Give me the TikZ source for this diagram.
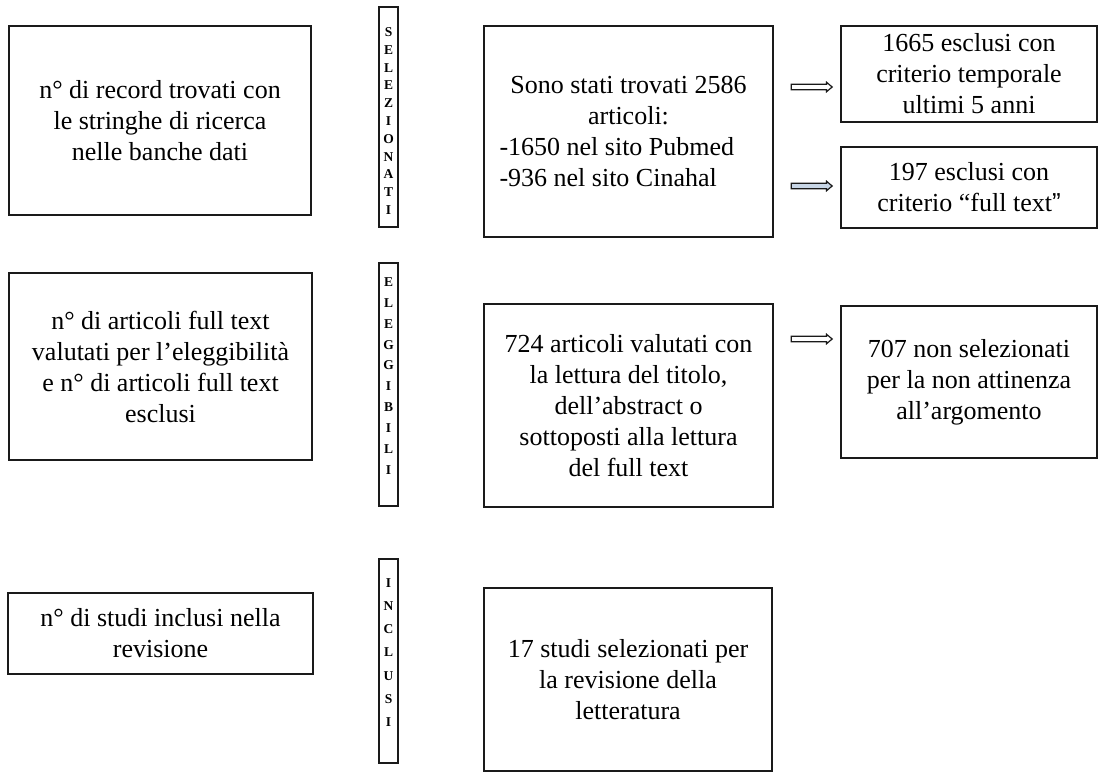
\documentclass[tikz,border=0pt]{standalone}
\usepackage{fontspec}
\setmainfont{Liberation Serif}
\newfontfamily\quotefont{Liberation Sans}
\usetikzlibrary{shapes.arrows}
\definecolor{edge}{HTML}{1A1A1A}
\definecolor{paleblue}{HTML}{C8D6E6}
\tikzset{
  box/.style={draw=edge, line width=1.4pt, align=center, inner sep=0pt,
    font=\fontsize{26}{31}\selectfont},
  bar/.style={draw=edge, line width=1.4pt, align=center, inner sep=0pt,
    minimum width=19},
  outarrow/.style={single arrow, draw=edge, line width=1.2pt, fill=white,
    minimum height=41, inner sep=2.2pt, single arrow head extend=1.9pt,
    single arrow tip angle=80}
}
\begin{document}
\begin{tikzpicture}[x=1pt,y=-1pt]
\useasboundingbox (0,0) rectangle (1099,773);
% left column
\node[box, minimum width=302, minimum height=189] (l1) at (160,120.5)
  {n° di record trovati con\\le stringhe di ricerca\\nelle banche dati};
\node[box, minimum width=303, minimum height=187] (l2) at (160.5,366.5)
  {n° di articoli full text\\valutati per l’eleggibilità\\e n° di articoli full text\\esclusi};
\node[box, minimum width=305, minimum height=81] (l3) at (160.5,633.5)
  {n° di studi inclusi nella\\revisione};
% bars
\node[bar, minimum height=220,
  font=\bfseries\fontsize{13.5}{17.8}\selectfont] (bs) at (388.5,117)
  {\rule{0pt}{17pt}S\\E\\L\\E\\Z\\I\\O\\N\\A\\T\\I};
\node[bar, minimum height=243, text depth=17pt,
  font=\bfseries\fontsize{13.5}{20.9}\selectfont] (be) at (388.5,384.5)
  {E\\L\\E\\G\\G\\I\\B\\I\\L\\I};
\node[bar, minimum height=204, text depth=17pt,
  font=\bfseries\fontsize{13.5}{23.3}\selectfont] (bi) at (388.5,661)
  {I\\N\\C\\L\\U\\S\\I};
% middle column
\node[box, minimum width=289, minimum height=211] (m1) at (628.5,131.5)
  {Sono stati trovati 2586\\articoli:\\\makebox[258pt][l]{-1650 nel sito Pubmed}\\\makebox[258pt][l]{-936 nel sito Cinahal}};
\node[box, minimum width=289, minimum height=203] (m2) at (628.5,405.5)
  {724 articoli valutati con\\la lettura del titolo,\\dell’abstract o\\sottoposti alla lettura\\del full text};
\node[box, minimum width=288, minimum height=183] (m3) at (628,679.5)
  {17 studi selezionati per\\la revisione della\\letteratura};
% right column
\node[box, minimum width=256, minimum height=96] (r1) at (969,74)
  {1665 esclusi con\\criterio temporale\\ultimi 5 anni};
\node[box, minimum width=256, minimum height=81] (r2) at (969,187.5)
  {197 esclusi con\\criterio “full text{\quotefont ”}};
\node[box, minimum width=256, minimum height=152] (r3) at (969,382)
  {707 non selezionati\\per la non attinenza\\all’argomento};
% arrows
\node[outarrow] (a1) at (810,87) {};
\node[outarrow, fill=paleblue] (a2) at (810,186) {};
\node[outarrow] (a3) at (810,339) {};
\end{tikzpicture}
\end{document}
